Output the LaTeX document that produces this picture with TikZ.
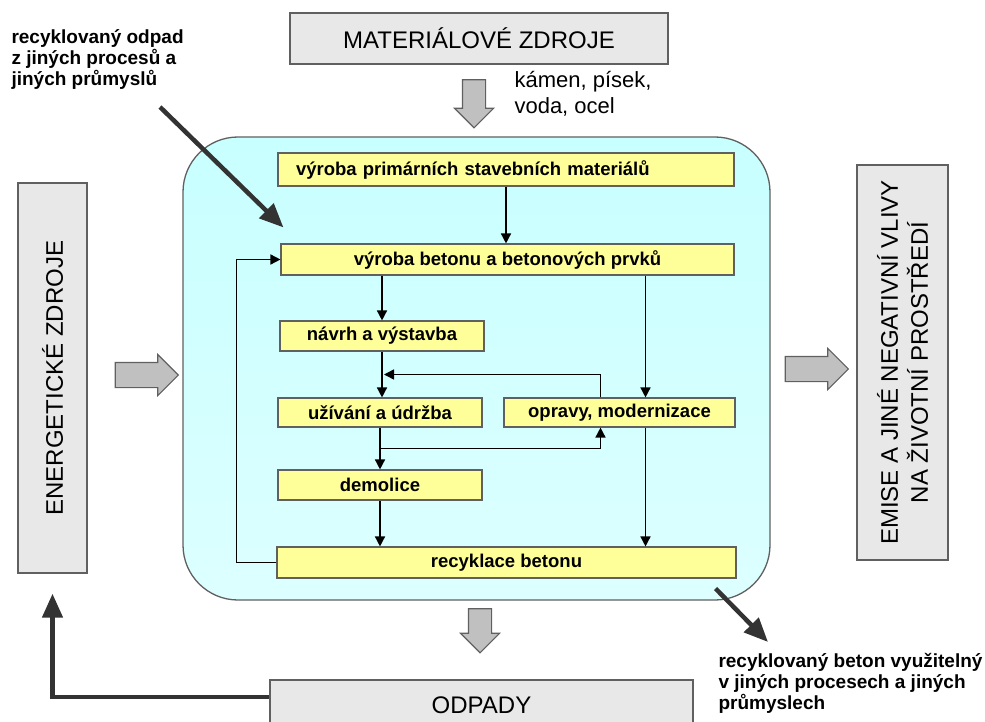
\documentclass[tikz,border=0pt]{standalone}
\usepackage{fontspec}
\setmainfont{Liberation Sans}
\usetikzlibrary{shapes.arrows,arrows.meta,calc}
\definecolor{boxgray}{HTML}{E8E8E8}
\definecolor{edgegray}{HTML}{606060}
\definecolor{procyellow}{HTML}{FFFF99}
\definecolor{cyantop}{HTML}{C8FFFF}
\definecolor{cyanbot}{HTML}{DDFFFF}
\definecolor{arrowgray}{HTML}{C0C0C0}
\definecolor{darkline}{HTML}{333333}
\begin{document}
\begin{tikzpicture}[x=1pt,y=-1pt,
      srcbox/.style={draw=edgegray, fill=boxgray, line width=1.3pt, inner sep=0pt, font=\fontsize{24}{30}\selectfont},
      procbox/.style={draw=edgegray, fill=procyellow, line width=1.1pt, inner sep=0pt, font=\bfseries\fontsize{18.5}{20}\selectfont},
      fatarrow/.style={single arrow, draw=edgegray, fill=arrowgray, line width=1.1pt, inner xsep=0pt, inner ysep=11pt, single arrow head extend=8pt, minimum height=48pt},
      flow/.style={-{Triangle[length=10pt,width=10pt]}, line width=1.5pt},
      bigarrow/.style={-{Triangle[length=24pt,width=20pt]}, line width=4.5pt, draw=darkline},
      note/.style={anchor=north west, align=left, font=\bfseries\fontsize{19}{21}\selectfont}
    ]
      \useasboundingbox (0,0) rectangle (985,722);
      % outer sources and sinks
      \node[srcbox, minimum width=378pt, minimum height=51pt] (mat) at (479,38.5) {MATERIÁLOVÉ ZDROJE};
      \node[srcbox, minimum width=390pt, minimum height=69pt, rotate=90] (energ) at (52.5,378) {ENERGETICKÉ ZDROJE};
      \node[srcbox, minimum width=395pt, minimum height=91pt, rotate=90, align=center] (emis) at (902.5,362.5) {EMISE A JINÉ NEGATIVNÍ VLIVY\\NA ŽIVOTNÍ PROSTŘEDÍ};
      \node[srcbox, minimum width=423pt, minimum height=50pt] (odpady) at (481.5,705) {ODPADY};
      \node[anchor=north west, align=left, font=\fontsize{22}{26}\selectfont] (suroviny) at (511,68) {kámen, písek,\\voda, ocel};
      % main cycle
      \draw[draw=edgegray, line width=1.3pt, rounded corners=55pt, top color=cyantop, bottom color=cyanbot] (183,137) rectangle (770,600);
      \node[procbox, minimum width=456pt, minimum height=33pt, text width=420pt, align=left] (vyrprim) at (506,169.5) {výroba primárních stavebních materiálů};
      \node[procbox, minimum width=453pt, minimum height=31pt] (vyrbet) at (507.5,259.5) {výroba betonu a betonových prvků};
      \node[procbox, minimum width=204pt, minimum height=30pt] (navrh) at (382,336) {návrh a výstavba};
      \node[procbox, minimum width=204pt, minimum height=29pt] (uziv) at (380,412.5) {užívání a údržba};
      \node[procbox, minimum width=231pt, minimum height=29pt] (opravy) at (619.5,412.5) {opravy, modernizace};
      \node[procbox, minimum width=204pt, minimum height=30pt] (demol) at (380,485) {demolice};
      \node[procbox, minimum width=459pt, minimum height=31pt] (recbet) at (506.5,562.5) {recyklace betonu};
      \coordinate (zpet) at ($(navrh.south)!0.5!(uziv.north)$);
      \coordinate (vpred) at ($(uziv.south)!0.5!(demol.north)$);
      \draw[flow] (vyrprim.south) -- (vyrprim.south |- vyrbet.north);
      \draw[flow] (navrh.north |- vyrbet.south) -- (navrh.north);
      \draw[flow] ([xshift=26pt]opravy.north |- vyrbet.south) -- ([xshift=26pt]opravy.north);
      \draw[flow] (navrh.south) -- (navrh.south |- uziv.north);
      \draw[flow] ([xshift=-19pt]opravy.north) |- ([xshift=2pt]navrh.south |- zpet);
      \draw[flow] (uziv.south) -- (demol.north);
      \draw[flow] (uziv.south |- vpred) -| ([xshift=-19pt]opravy.south);
      \draw[flow] (demol.south) -- (demol.south |- recbet.north);
      \draw[flow] ([xshift=26pt]opravy.south) -- ([xshift=26pt]opravy.south |- recbet.north);
      \draw[flow] (recbet.west) -- ++(-40,0) |- (vyrbet.west);
      % inputs and outputs
      \node[fatarrow, rotate=-90] (inmat) at (474,98) {};
      \node[fatarrow, inner ysep=12pt, minimum height=63pt] (inen) at (140.5,375) {};
      \node[fatarrow, inner ysep=12pt, minimum height=63pt] (outem) at (810.5,369) {};
      \node[fatarrow, rotate=-90, minimum height=44pt] (outodp) at (480,625) {};
      \node[note] (odpadin) at (8,26) {recyklovaný odpad\\z jiných procesů a\\jiných průmyslů};
      \node[note] (betonout) at (715,650) {recyklovaný beton využitelný\\v jiných procesech a jiných\\průmyslech};
      \coordinate (odpadstart) at (160,107);
      \coordinate (betonend) at (768,642);
      \draw[bigarrow] (odpadstart) -- ([xshift=3pt,yshift=16pt]vyrbet.north west);
      \draw[bigarrow] ([xshift=-21pt,yshift=-10pt]recbet.south east) -- (betonend);
      \draw[bigarrow] ([yshift=8pt]odpady.west) -| ([yshift=-20pt]energ.west);
    \end{tikzpicture}
\end{document}
